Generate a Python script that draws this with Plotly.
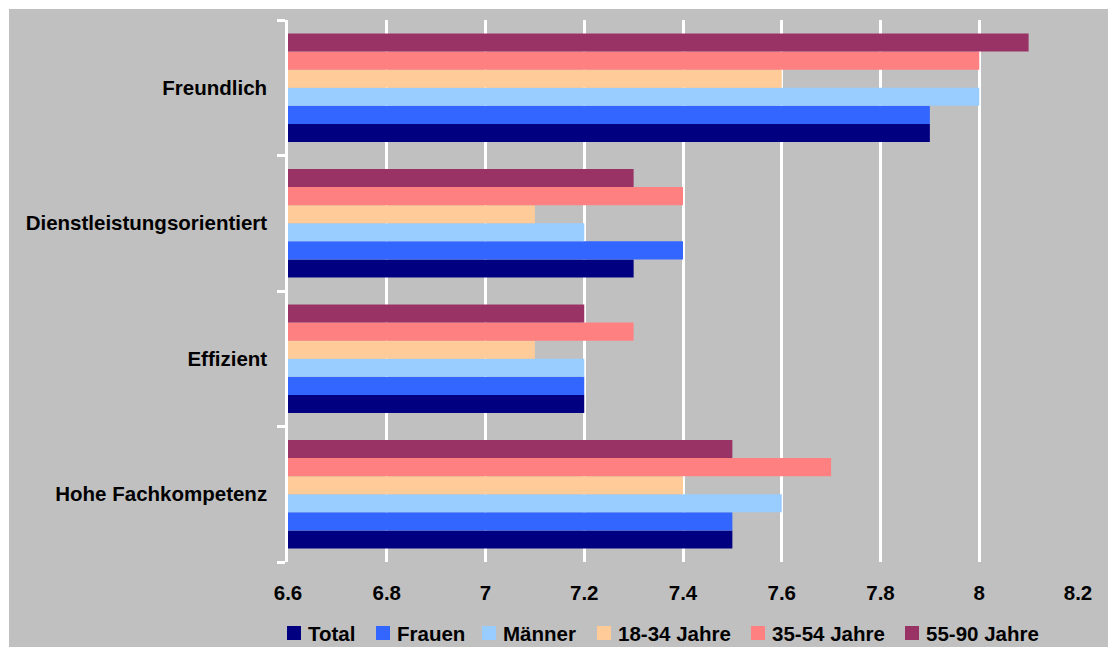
import plotly.graph_objects as go

# Survey ratings per attribute and respondent group
categories = ["Hohe Fachkompetenz", "Effizient", "Dienstleistungsorientiert", "Freundlich"]
series_names = ["Total", "Frauen", "Männer", "18-34 Jahre", "35-54 Jahre", "55-90 Jahre"]
total = [7.5, 7.2, 7.3, 7.9]
frauen = [7.5, 7.2, 7.4, 7.9]
maenner = [7.6, 7.2, 7.2, 8.0]
jahre_18_34 = [7.4, 7.1, 7.1, 7.6]
jahre_35_54 = [7.7, 7.3, 7.4, 8.0]
jahre_55_90 = [7.5, 7.2, 7.3, 8.1]
x_ticks = [6.6, 6.8, 7.0, 7.2, 7.4, 7.6, 7.8, 8.0, 8.2]
x_tick_labels = ["6.6", "6.8", "7", "7.2", "7.4", "7.6", "7.8", "8", "8.2"]

series_values = [total, frauen, maenner, jahre_18_34, jahre_35_54, jahre_55_90]
colors = ["#000080", "#3366FF", "#99CCFF", "#FFCC99", "#FF8080", "#993366"]

FONT = "Liberation Sans, Arial, sans-serif"
FSIZE = 20.5
GREY = "#C0C0C0"

# plot-area geometry in pixels
L, R, T, B = 288, 30, 20, 85
W, H = 1108, 647
pw, ph = W - L - R, H - T - B


def px_x(px):
    """Horizontal pixel -> paper fraction."""
    return (px - L) / pw


def px_y(py):
    """Vertical pixel (from top) -> paper fraction."""
    return (H - B - py) / ph


bold = dict(family=FONT, size=FSIZE, color="black", weight="bold")

fig = go.Figure()
for name, vals, col in zip(series_names, series_values, colors):
    fig.add_trace(go.Bar(
        y=categories, x=vals, name=name, orientation="h",
        marker=dict(color=col, line=dict(width=0)),
    ))

# thin white page margin along the top and left of the grey chart area
shapes = [
    dict(type="rect", xref="paper", yref="paper", layer="below",
         x0=px_x(-5), x1=px_x(W + 5), y0=px_y(9), y1=px_y(-5),
         fillcolor="white", line=dict(width=0)),
    dict(type="rect", xref="paper", yref="paper", layer="below",
         x0=px_x(-5), x1=px_x(9), y0=px_y(H + 5), y1=px_y(-5),
         fillcolor="white", line=dict(width=0)),
]
annotations = []

# legend row drawn below the axis: colour key square followed by its label
legend_left = [287, 376, 482, 597, 751, 905]
legend_mid, key = 633, 14
for left, name, col in zip(legend_left, series_names, colors):
    shapes.append(dict(
        type="rect", xref="paper", yref="paper", layer="above",
        x0=px_x(left), x1=px_x(left + key),
        y0=px_y(legend_mid + key / 2), y1=px_y(legend_mid - key / 2),
        fillcolor=col, line=dict(width=0),
    ))
    annotations.append(dict(
        xref="paper", yref="paper", x=px_x(left + key + 5), y=px_y(legend_mid),
        xanchor="left", yanchor="middle", text=name, showarrow=False,
        font=bold,
    ))

fig.update_layout(
    width=W, height=H,
    margin=dict(l=L, r=R, t=T, b=B, autoexpand=False),
    paper_bgcolor=GREY,
    plot_bgcolor=GREY,
    barmode="group",
    bargap=0.2,
    bargroupgap=0,
    font=bold,
    showlegend=False,
    shapes=shapes,
    annotations=annotations,
    xaxis=dict(
        range=[6.6, 8.2], tickvals=x_ticks, ticktext=x_tick_labels,
        showgrid=True, gridcolor="white", gridwidth=2.5,
        zeroline=False, showline=False, ticks="",
        ticklabelstandoff=16,
        tickfont=bold,
    ),
    yaxis=dict(
        type="category", categoryorder="array", categoryarray=categories,
        showgrid=False, zeroline=False,
        showline=True, linecolor="white", linewidth=2.5,
        ticks="outside", tickson="boundaries", ticklen=8,
        tickcolor="white", tickwidth=2.5,
        ticklabelstandoff=14,
        tickfont=bold,
    ),
)

fig.write_html("out.html")
